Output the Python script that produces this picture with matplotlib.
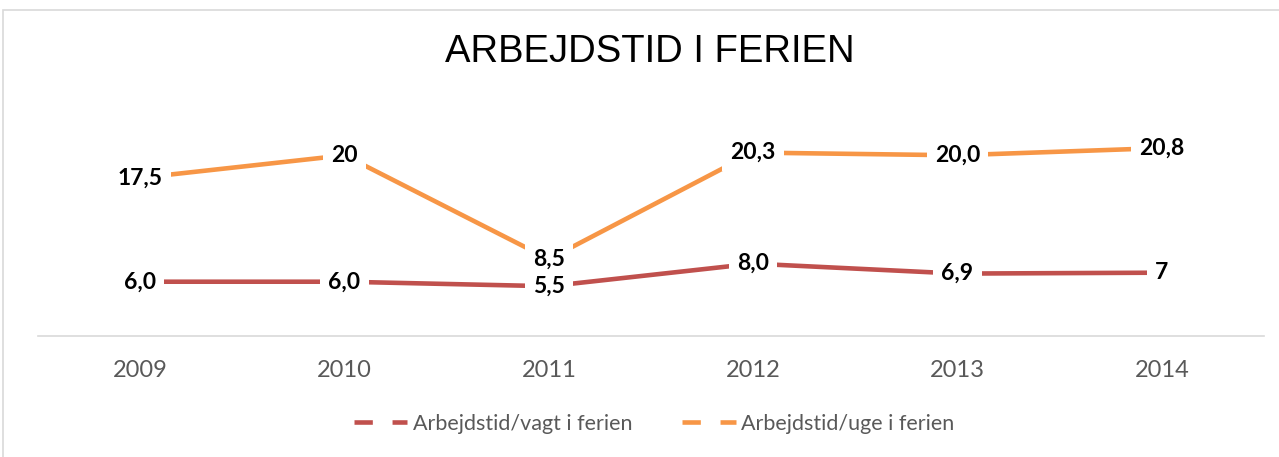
import matplotlib
matplotlib.use("Agg")
from matplotlib import pyplot as plt
from matplotlib.patches import Rectangle

years = ["2009", "2010", "2011", "2012", "2013", "2014"]
vagt = [6.0, 6.0, 5.5, 8.0, 6.9, 7.0]
uge = [17.5, 20.0, 8.5, 20.3, 20.0, 20.8]
vagt_labels = ["6,0", "6,0", "5,5", "8,0", "6,9", "7"]
uge_labels = ["17,5", "20", "8,5", "20,3", "20,0", "20,8"]

red = "#C0504D"
orange = "#F79646"

plt.rcParams["font.family"] = ["Lato", "DejaVu Sans"]

fig = plt.figure(figsize=(12.79, 4.57), dpi=100)
ax = fig.add_axes([38 / 1279, 0.265, 1226 / 1279, 0.494])

x = range(len(years))
ax.plot(x, vagt, color=red, lw=3.3, solid_capstyle="butt", label="Arbejdstid/vagt i ferien")
ax.plot(x, uge, color=orange, lw=3.3, solid_capstyle="butt", label="Arbejdstid/uge i ferien")

# white boxes first, then the texts on top so boxes never hide a label
box = dict(boxstyle="square,pad=0.35", fc="white", ec="none")
for vals, labs in [(vagt, vagt_labels), (uge, uge_labels)]:
    for i in x:
        ax.text(i, vals[i], labs[i], ha="center", va="center", fontsize=16.5,
                fontweight="bold", color="none", bbox=box, zorder=4)
        ax.text(i, vals[i], labs[i], ha="center", va="center", fontsize=16.5,
                fontweight="bold", color="black", zorder=5)

ax.set_xlim(-0.5, 5.5)
ax.set_ylim(0, 25)
ax.set_yticks([])
ax.set_xticks(list(x))
ax.set_xticklabels(years, fontsize=17, color="#595959")
ax.tick_params(axis="x", length=0, pad=17)
for s in ["left", "right", "top"]:
    ax.spines[s].set_visible(False)
ax.spines["bottom"].set_color("#d9d9d9")
ax.spines["bottom"].set_linewidth(1.2)

fig.text(0.508, 1 - 52 / 457, "ARBEJDSTID I FERIEN", ha="center", va="center",
         fontsize=27.5, family="Liberation Sans", color="black")

leg = ax.legend(loc="center", bbox_to_anchor=(654 / 1279, 1 - 424 / 457),
                bbox_transform=fig.transFigure, ncol=2, frameon=False,
                fontsize=15.5, labelcolor="#595959", handlelength=2.5,
                columnspacing=2.3, handletextpad=0.25)
for h in leg.legend_handles:
    h.set_linestyle((0, (4, 4.3)))
    h.set_solid_capstyle("butt")

fig.patches.append(Rectangle((3 / 1279, -0.1), 1.2, 1 - 10 / 457 + 0.1,
                             transform=fig.transFigure, fill=False,
                             ec="#d9d9d9", lw=1.2))

fig.savefig("out.png", dpi=100)
